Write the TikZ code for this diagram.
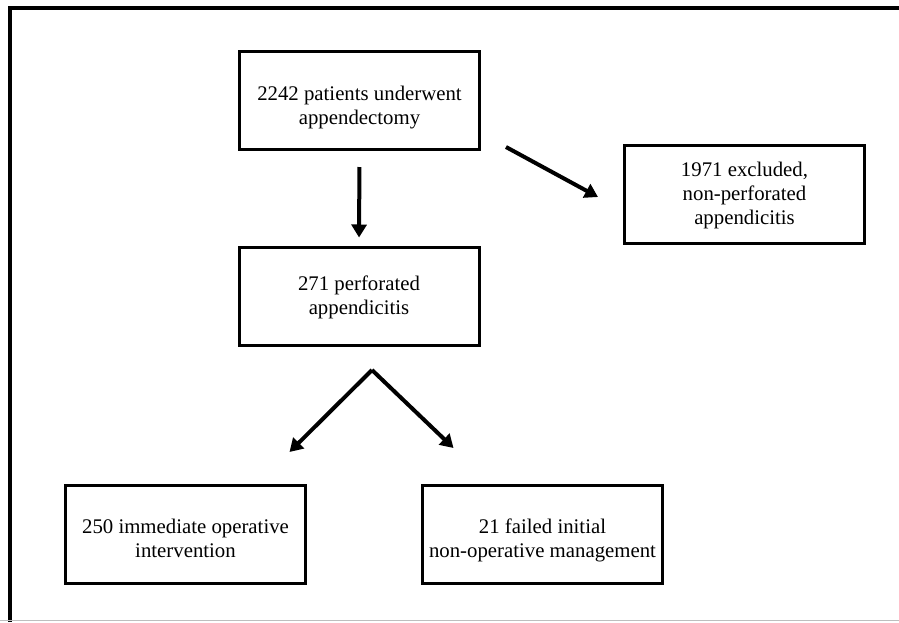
\documentclass[tikz,border=0pt]{standalone}
\usepackage{fontspec}
\setmainfont{Liberation Serif}
\usepackage{xcolor}
\usetikzlibrary{positioning,arrows.meta,calc}
\definecolor{framegray}{RGB}{190,190,190}

\tikzset{
  flowbox/.style={draw, line width=3pt, minimum width=240pt, minimum height=98pt,
    align=center, inner sep=0pt, text depth=0pt, font=\fontsize{20.8}{24}\selectfont},
  flowarrow/.style={line width=4pt, -{Triangle[length=13pt, width=15pt]}}
}

\begin{document}
\begin{tikzpicture}[x=1pt, y=-1pt]
  \useasboundingbox (0,0) rectangle (899,622);

  % Frame
  \draw[line width=4pt] (10,622) -- (10,7.5) -- (899,7.5);
  \draw[line width=1.5pt, color=framegray] (0,620.5) -- (899,620.5);

  % Boxes
  \node[flowbox, text height=47pt] (total) at (359.5, 100.5)
    {2242 patients underwent\\appendectomy};
  \node[flowbox, text height=59.4pt] (excl) at (744.5, 194.5)
    {1971 excluded,\\non-perforated\\appendicitis};
  \node[flowbox, text height=37.4pt] (perf) at (359, 296)
    {271 perforated\\appendicitis};
  \node[flowbox, text height=45pt] (oper) at (185.5, 534.5)
    {250 immediate operative\\intervention};
  \node[flowbox, text height=45pt] (fail) at (542.5, 534.5)
    {21 failed initial\\non-operative management};

  % Free ends of the connectors
  \coordinate (exclStart) at ($(total.south east)+(25,-4)$);
  \coordinate (exclEnd)   at ($(excl.west)+(-25,2.5)$);
  \coordinate (fork)      at ($(perf.south)+(13,23.5)$);
  \coordinate (operEnd)   at ($(oper.north)+(104,-32)$);
  \coordinate (failEnd)   at ($(fail.north)+(-89,-36)$);

  % Arrows
  \draw[flowarrow, shorten <=16pt, shorten >=8pt] (total.south) -- (perf.north);
  \draw[flowarrow] (exclStart) -- (exclEnd);
  \draw[flowarrow] (fork) -- (operEnd);
  \draw[flowarrow] (fork) -- (failEnd);
\end{tikzpicture}
\end{document}
